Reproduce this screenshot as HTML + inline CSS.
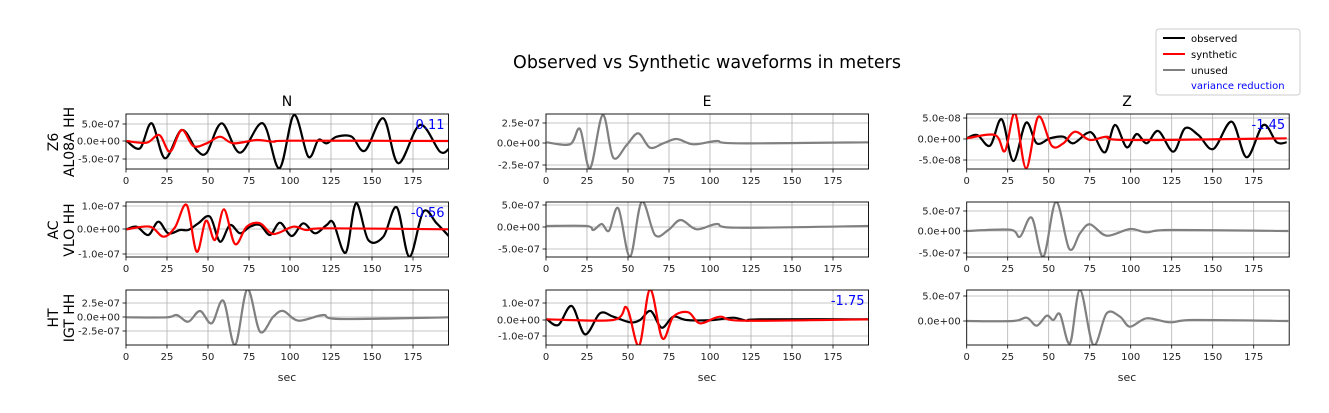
<!DOCTYPE html>
<html><head><meta charset="utf-8"><style>
html,body{margin:0;padding:0;background:#fff;}
svg{display:block;font-family:"DejaVu Sans","Liberation Sans",sans-serif;}
</style></head><body>
<svg id="s" width="1329" height="413" xmlns="http://www.w3.org/2000/svg">
<rect width="1329" height="413" fill="#fff"/>
<text x="707" y="68" font-size="17.5" text-anchor="middle">Observed vs Synthetic waveforms in meters</text>
<text x="287" y="106" font-size="14" text-anchor="middle">N</text>
<text x="707" y="106" font-size="14" text-anchor="middle">E</text>
<text x="1127" y="106" font-size="14" text-anchor="middle">Z</text>
<g font-size="14" text-anchor="middle">
<text transform="translate(58,142) rotate(-90)">Z6</text>
<text transform="translate(74,142) rotate(-90)">AL08A HH</text>
<text transform="translate(58,230) rotate(-90)">AC</text>
<text transform="translate(74,230) rotate(-90)">VLO HH</text>
<text transform="translate(58,318) rotate(-90)">HT</text>
<text transform="translate(74,318) rotate(-90)">IGT HH</text>
</g>
<g font-size="11" text-anchor="middle" fill="#222">
<text x="287" y="381">sec</text><text x="707" y="381">sec</text><text x="1127" y="381">sec</text>
</g>
<g id="plots"></g>
<g>
<rect x="1156" y="29" width="144" height="66" rx="3" fill="#fff" stroke="#ccc"/>
<line x1="1163" y1="38" x2="1185" y2="38" stroke="#000" stroke-width="2"/>
<line x1="1163" y1="54" x2="1185" y2="54" stroke="red" stroke-width="2"/>
<line x1="1163" y1="70" x2="1185" y2="70" stroke="gray" stroke-width="2"/>
<g font-size="10"><text x="1191" y="42">observed</text><text x="1191" y="58">synthetic</text><text x="1191" y="74">unused</text><text x="1191" y="89" fill="blue">variance reduction</text></g>
</g>
</svg>
<script>
const NS="http://www.w3.org/2000/svg";
const g=document.getElementById('plots');
function el(t,a,txt){const e=document.createElementNS(NS,t);for(const k in a)e.setAttribute(k,a[k]);if(txt!==undefined)e.textContent=txt;g.appendChild(e);return e;}
const cols=[126,546,966.7], W=322.5, rows=[114,202,290], H=55, pps=1.64;
function path(ox,oy,p){const q=[];for(let i=0;i<p.length;i+=2)q.push([ox+p[i]/3,oy+p[i+1]/3]);
 let d="M"+q[0][0].toFixed(1)+","+q[0][1].toFixed(1);
 for(let i=0;i<q.length-1;i++){const p0=q[Math.max(0,i-1)],p1=q[i],p2=q[i+1],p3=q[Math.min(q.length-1,i+2)];
  const c1=[p1[0]+(p2[0]-p0[0])/6,p1[1]+(p2[1]-p0[1])/6],c2=[p2[0]-(p3[0]-p1[0])/6,p2[1]-(p3[1]-p1[1])/6];
  d+=" C"+c1[0].toFixed(1)+","+c1[1].toFixed(1)+" "+c2[0].toFixed(1)+","+c2[1].toFixed(1)+" "+p2[0].toFixed(1)+","+p2[1].toFixed(1);}
 return d;}
const P=[
[0,0,[[124,"5.0e-07"],[141,"0.0e+00"],[159,"-5.0e-07"]],[[40,90,"#000",[260,153,300,175,335,100,375,205,425,120,470,180,500,188,545,100,600,188,668,100,718,235,762,75,805,200,835,150,860,160,890,140,935,140,975,182,1030,85,1075,220,1140,105,1200,185,1228,175]],[40,90,"red",[260,153,320,158,358,135,390,185,425,120,460,168,500,160,540,140,580,160,650,150,700,155,760,152,1228,153]]],"0.11"],
[1,0,[[206,"1.0e-07"],[229,"0.0e+00"],[254,"-1.0e-07"]],[[40,90,"#000",[260,418,290,410,325,435,355,395,385,430,420,420,445,420,475,400,510,380,540,455,570,405,600,430,630,410,660,405,690,435,720,398,755,438,790,400,825,430,860,405,880,398,917,488,948,340,985,450,1030,440,1070,352,1108,500,1150,365,1190,400,1228,440]],[40,90,"red",[260,418,330,410,370,440,405,412,440,345,470,485,498,392,525,450,552,358,585,462,620,410,660,400,700,432,760,410,800,420,860,415,1228,418]]],"-0.56"],
[2,0,[[303,"2.5e-07"],[317,"0.0e+00"],[331,"-2.5e-07"]],[[40,250,"gray",[260,202,380,202,410,195,445,215,480,183,515,220,550,152,585,285,622,118,660,245,700,200,730,183,775,212,850,195,900,207,1228,202]]],""],
[0,1,[[123,"2.5e-07"],[143,"0.0e+00"],[165,"-2.5e-07"]],[[460,105,"gray",[260,112,330,118,360,72,390,190,428,30,460,158,500,120,535,85,570,128,610,115,650,102,700,118,770,108,830,115,1228,112]]],""],
[1,1,[[205,"5.0e-07"],[227,"0.0e+00"],[249,"-5.0e-07"]],[[460,105,"gray",[260,363,380,363,400,375,425,357,447,377,475,310,510,455,545,290,585,390,625,375,662,345,710,373,770,357,830,368,1228,363]]],""],
[2,1,[[303,"1.0e-07"],[320,"0.0e+00"],[336,"-1.0e-07"]],[[460,250,"#000",[260,207,295,225,335,168,375,253,420,190,460,200,510,217,540,210,572,183,605,233,640,200,680,210,760,210,820,203,860,212,900,208,1228,208]],[460,250,"red",[260,208,460,210,500,173,537,287,570,118,607,265,640,200,685,187,720,220,780,200,850,212,1228,208]]],"-1.75"],
[0,2,[[118,"5.0e-08"],[139,"0.0e+00"],[160,"-5.0e-08"]],[[900,25,"#000",[200,340,232,330,270,362,305,283,340,408,378,293,410,355,450,340,490,335,520,355,560,325,580,328,615,382,645,300,680,367,710,327,740,355,775,318,820,380,855,310,895,330,940,372,995,290,1040,397,1090,300,1130,352,1160,352]],[900,25,"red",[200,340,285,330,315,378,345,265,378,430,415,275,455,362,490,355,525,320,570,345,620,335,680,345,1160,340]]],"-1.45"],
[1,2,[[211,"5.0e-07"],[231,"0.0e+00"],[253,"-5.0e-07"]],[[880,195,"gray",[260,108,390,104,420,125,455,68,490,185,528,20,568,162,600,115,630,88,680,122,750,102,800,112,870,105,1225,108]]],""],
[2,2,[[296,"5.0e-07"],[321,"0.0e+00"]],[[880,195,"gray",[260,378,400,378,440,368,470,392,500,362,520,375,540,358,570,445,600,285,640,450,680,355,720,365,750,395,800,370,870,382,940,375,1225,378]]],""]
];
P.forEach((p,i)=>{const [r,c,yt,ser,vr]=p;const x0=cols[c],y0=rows[r];
 const cid="c"+i;const cp=el("clipPath",{id:cid});const rr=document.createElementNS(NS,"rect");rr.setAttribute("x",x0);rr.setAttribute("y",y0);rr.setAttribute("width",W);rr.setAttribute("height",H);cp.appendChild(rr);
 for(let t=0;t<=175;t+=25){const x=x0+t*pps;
  if(t>0)el("line",{x1:x,y1:y0,x2:x,y2:y0+H,stroke:"#b0b0b0","stroke-width":0.8});
  el("line",{x1:x,y1:y0+H,x2:x,y2:y0+H+3.5,stroke:"#000","stroke-width":0.8});
  el("text",{x:x,y:y0+H+15,"font-size":10,"text-anchor":"middle",fill:"#222"},String(t));}
 yt.forEach(([y,l])=>{el("line",{x1:x0,y1:y,x2:x0+W,y2:y,stroke:"#b0b0b0","stroke-width":0.8});
  el("line",{x1:x0-3.5,y1:y,x2:x0,y2:y,stroke:"#000","stroke-width":0.8});
  el("text",{x:x0-6,y:y+3.5,"font-size":10,"text-anchor":"end",fill:"#222"},l);});
 ser.forEach(([ox,oy,col,pts])=>{el("path",{d:path(ox,oy,pts),fill:"none",stroke:col,"stroke-width":2.2,"clip-path":"url(#"+cid+")"});});
 el("rect",{x:x0,y:y0,width:W,height:H,fill:"none",stroke:"#000","stroke-width":0.9});
 if(vr)el("text",{x:x0+W-4,y:y0+15,"font-size":13,"text-anchor":"end",fill:"blue"},vr);
});
</script>
</body></html>
